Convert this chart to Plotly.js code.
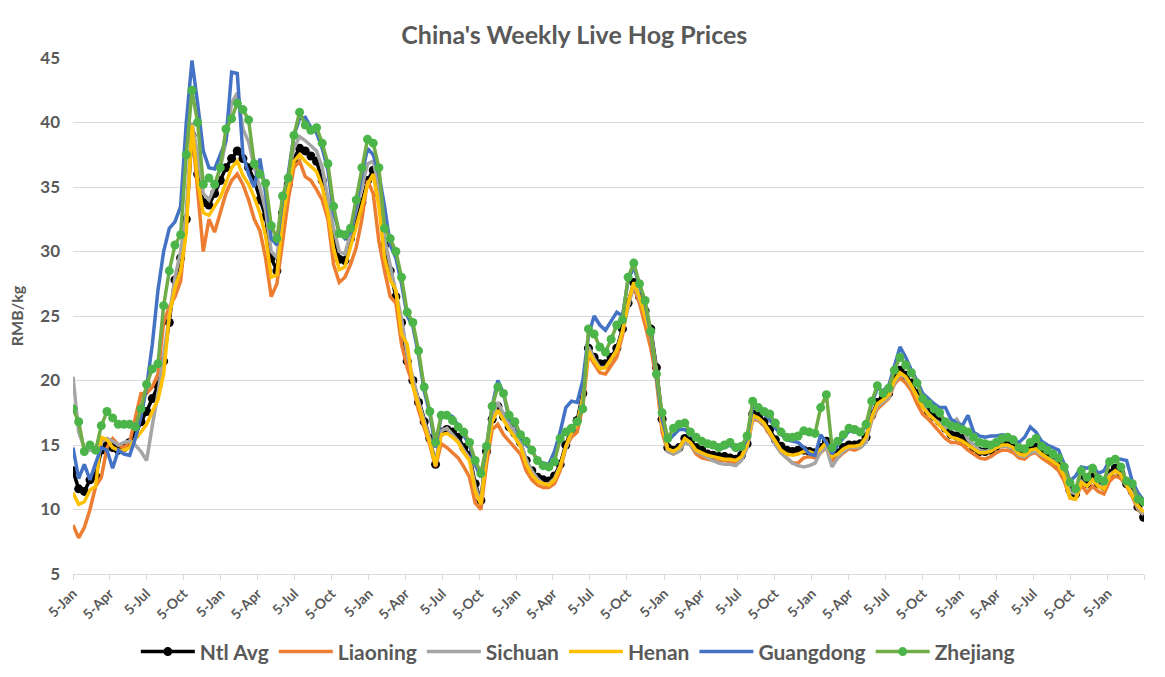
<!DOCTYPE html>
<html>
<head>
<meta charset="utf-8">
<script src="https://cdn.plot.ly/plotly-3.0.1.min.js"></script>
<style>
  html, body { margin: 0; padding: 0; background: #fff; }
  #hog-plot { width: 1165px; height: 677px; }
</style>
</head>
<body>
<div id="hog-plot"></div>
<script>
// Biweekly samples, first week 5-Jan-2019
const START_DATE = "2019-01-05";
const STEP_DAYS = 14;

const ntlAvg = [
  13.0, 11.6, 11.4, 12.3, 12.6, 14.6, 15.0, 14.8, 14.6, 14.8,
  15.2, 15.8, 16.8, 17.6, 18.6, 19.6, 21.5, 24.5, 27.8, 29.5,
  32.5, 39.0, 36.0, 33.8, 33.6, 34.5, 35.5, 36.5, 37.2, 37.8,
  37.2, 36.5, 35.5, 34.0, 32.7, 29.5, 28.5, 33.0, 35.2, 37.2,
  38.0, 37.8, 37.4, 37.0, 35.5, 33.5, 31.2, 29.4, 29.3, 31.0,
  32.7, 33.8, 35.5, 36.3, 34.5, 30.5, 28.5, 26.5, 24.5, 21.5,
  20.0, 18.3, 16.8, 15.5, 13.5, 16.0, 16.2, 16.0, 15.6, 14.8,
  14.2, 12.0, 10.7, 14.5, 17.0, 18.0, 17.2, 16.4, 15.9, 15.2,
  13.8, 13.0, 12.5, 12.3, 12.2, 12.6, 13.5, 15.0, 16.2, 16.9,
  19.0, 22.5, 21.8, 21.3, 21.3, 21.8, 22.5, 24.0, 26.0, 27.6,
  26.5, 25.4, 24.0, 21.0, 17.0, 14.8, 14.6, 14.8, 15.5, 15.3,
  14.8, 14.6, 14.3, 14.2, 14.1, 14.1, 14.0, 13.9, 14.2, 15.1,
  17.4, 17.2, 16.8, 16.2, 15.4, 14.9, 14.6, 14.5, 14.6, 14.6,
  14.5, 14.4, 14.8, 15.3, 14.2, 14.4, 14.8, 15.0, 15.0, 15.1,
  15.6, 17.3, 18.3, 18.6, 19.0, 20.2, 20.8, 20.4, 19.8, 19.0,
  18.2, 17.6, 17.2, 16.8, 16.3, 15.8, 15.7, 15.5, 15.2, 14.8,
  14.5, 14.5, 14.6, 14.9, 15.1, 15.1, 14.9, 14.4, 14.3, 14.7,
  14.8, 14.4, 14.1, 13.8, 13.5, 12.8, 11.5, 11.2, 12.3, 12.0,
  12.5, 12.0, 11.8, 12.8, 13.2, 12.8, 12.0, 11.4, 10.2, 9.4
];

const liaoning = [
  8.8, 7.8, 8.6, 10.0, 11.8, 12.5, 14.8, 15.5, 15.0, 14.8,
  15.2, 17.0, 19.0, 19.0, 19.5, 20.5, 24.5, 25.7, 26.5, 27.7,
  32.0, 39.5, 35.0, 30.0, 32.5, 31.5, 33.0, 34.5, 35.5, 36.0,
  35.2, 34.0, 32.5, 31.6, 29.5, 26.5, 27.5, 31.0, 34.0, 36.5,
  37.0, 35.8, 35.5, 34.8, 34.0, 32.5, 29.0, 27.6, 28.0, 29.0,
  30.3, 32.5, 35.5, 34.5, 30.8, 28.5, 26.5, 26.0, 22.8, 21.0,
  19.7, 17.7, 16.4, 15.0, 13.3, 15.1, 14.8, 14.4, 14.0, 13.3,
  12.5, 10.5, 10.0, 13.5, 16.2, 16.6, 15.8, 15.3, 14.8, 14.3,
  13.0, 12.3, 11.9, 11.7, 11.7, 12.0, 13.0, 14.8, 15.6, 16.0,
  18.0, 22.0, 21.3, 20.6, 20.5, 21.2, 21.8, 23.5, 26.0, 27.2,
  26.0, 24.3, 22.5, 20.0, 16.0, 14.5, 14.3, 14.6, 15.2, 15.0,
  14.3, 14.0, 13.9, 13.8, 13.8, 13.8, 13.7, 13.6, 13.9, 14.8,
  17.0, 16.9, 16.5, 15.8, 15.0, 14.4, 14.0, 13.6, 13.6, 14.0,
  14.1, 14.0, 14.4, 14.8, 13.8, 14.0, 14.4, 14.7, 14.6, 14.8,
  15.3, 16.9, 17.8, 18.2, 18.6, 19.7, 20.2, 19.8, 19.2, 18.2,
  17.4, 17.0, 16.5, 16.0, 15.5, 15.2, 15.2, 15.0, 14.6, 14.3,
  14.0, 13.9, 14.1, 14.4, 14.6, 14.6, 14.4, 14.0, 13.9, 14.3,
  14.4, 14.0, 13.7, 13.4, 13.0, 12.2, 10.9, 10.8, 11.9, 11.3,
  11.8, 11.4, 11.2, 12.2, 12.6, 12.4, 11.8, 11.0, 10.0, 9.6
];

const sichuan = [
  20.3, 16.0, 14.8, 14.6, 14.5, 15.2, 15.5, 15.3, 15.0, 15.2,
  15.3, 15.0, 14.5, 13.8, 16.5, 19.0, 22.0, 25.0, 28.0, 30.0,
  33.0, 40.0, 37.5, 34.5, 34.0, 35.0, 36.5, 38.5, 41.5, 42.3,
  39.5, 38.5, 36.5, 35.0, 33.2, 30.0, 29.5, 33.5, 36.0, 38.0,
  38.9, 38.6, 38.2, 37.8, 36.5, 34.2, 31.8, 30.0, 29.8, 31.4,
  33.2, 34.8, 36.8, 37.0, 35.0, 31.0, 29.0, 27.0, 24.8, 22.0,
  20.2, 18.4, 16.9, 15.5, 13.4, 16.1, 16.3, 15.8, 15.3, 14.6,
  14.0, 11.8, 10.6, 14.6, 17.2, 18.3, 17.4, 16.6, 16.0, 15.3,
  13.9, 13.0, 12.4, 12.0, 12.0, 12.4, 13.4, 14.8, 16.0, 16.6,
  18.8, 22.6, 21.7, 21.0, 21.0, 21.6, 22.4, 23.8, 25.8, 27.5,
  26.3, 25.2, 23.8, 20.8, 16.6, 14.5, 14.3, 14.5, 15.2, 15.0,
  14.5, 14.3, 14.0, 13.8, 13.6, 13.5, 13.5, 13.4, 13.8, 14.8,
  17.1, 17.0, 16.6, 16.0, 15.0, 14.4, 14.0, 13.6, 13.4, 13.3,
  13.4, 13.6, 14.5, 14.8, 13.3, 14.0, 14.5, 14.8, 14.8, 14.8,
  15.2, 17.0, 18.0, 18.3, 18.7, 19.8, 20.5, 20.2, 19.5, 18.8,
  18.0, 17.4, 17.0, 16.7, 16.3, 16.6, 17.0, 16.3, 15.4, 15.0,
  14.6, 14.5, 14.6, 14.8, 14.9, 14.9, 14.7, 14.2, 14.1, 14.4,
  14.5, 14.2, 14.0, 13.8, 13.4, 12.7, 11.4, 11.2, 12.2, 11.8,
  12.3, 11.9, 11.7, 12.7, 13.0, 12.7, 11.9, 11.3, 10.1, 9.6
];

const henan = [
  11.3, 10.4, 10.6, 11.5, 11.8, 15.6, 15.4, 14.8, 14.6, 14.6,
  14.8, 15.5, 16.0, 16.6, 17.6, 18.5, 20.5, 25.0, 27.2, 28.5,
  31.5, 39.8, 35.5, 33.0, 32.8, 33.5, 34.2, 35.3, 36.5, 37.0,
  35.9, 35.2, 34.2, 33.0, 31.2, 28.0, 28.2, 32.5, 35.0, 37.0,
  37.5, 37.0, 36.6, 36.2, 35.0, 33.0, 30.2, 28.6, 28.8, 30.3,
  32.0, 33.5, 35.2, 36.0, 33.5, 29.5, 27.8, 27.0, 23.6, 22.8,
  19.6, 18.0, 16.6, 15.2, 13.4, 15.8, 15.9, 15.6, 15.2, 14.4,
  13.8, 11.4, 10.4, 14.2, 16.8, 17.7, 16.9, 16.2, 15.6, 14.9,
  13.5, 12.7, 12.2, 12.0, 11.9, 12.3, 13.3, 14.9, 16.0, 16.6,
  18.6, 22.3, 21.5, 20.9, 21.0, 21.6, 22.3, 23.8, 26.0, 27.6,
  26.5, 25.0, 23.5, 20.5, 16.5, 14.7, 14.5, 14.8, 15.5, 15.2,
  14.6, 14.4, 14.2, 14.1, 14.0, 13.9, 13.9, 13.8, 14.1, 15.0,
  17.3, 17.1, 16.7, 16.0, 15.2, 14.6, 14.3, 14.2, 14.3, 14.5,
  14.5, 14.3, 14.7, 15.2, 14.1, 14.3, 14.7, 14.9, 14.9, 15.0,
  15.6, 17.2, 18.2, 18.5, 18.9, 20.0, 20.6, 20.3, 19.6, 18.7,
  17.9, 17.4, 17.0, 16.5, 16.0, 15.6, 15.5, 15.3, 15.0, 14.7,
  14.4, 14.4, 14.5, 14.8, 15.0, 15.0, 14.8, 14.3, 14.2, 14.6,
  14.7, 14.3, 14.0, 13.7, 13.4, 12.6, 10.9, 10.8, 12.1, 11.8,
  12.3, 11.8, 11.6, 12.6, 13.0, 12.7, 11.9, 11.2, 10.3, 9.8
];

const guangdong = [
  14.8, 12.4, 13.5, 12.3, 13.6, 14.8, 14.6, 13.2, 14.6, 14.3,
  14.2, 15.5, 17.2, 19.5, 22.8, 27.0, 30.0, 31.8, 32.3, 33.5,
  40.0, 44.8, 41.5, 37.8, 36.5, 36.4, 37.5, 38.6, 43.9, 43.8,
  37.5, 36.0, 35.0, 37.2, 34.5, 31.0, 30.5, 34.0, 36.0, 39.0,
  40.3, 40.4, 39.6, 39.2, 38.0, 36.3, 33.0, 31.5, 31.0, 31.5,
  33.5, 36.0, 38.0, 37.5, 36.0, 33.5, 30.5, 29.5, 27.5, 25.0,
  24.2, 22.0, 19.2, 17.4, 14.8, 17.2, 17.4, 17.2, 16.5, 15.8,
  15.0, 13.5, 12.5, 14.8, 18.0, 20.0, 19.0, 17.0, 16.6, 15.6,
  15.0, 14.6, 13.8, 13.6, 13.5, 14.5, 16.0, 17.9, 18.4, 18.3,
  20.0, 23.5, 25.0, 24.3, 23.9, 24.6, 25.3, 25.0, 27.8, 28.8,
  27.5, 26.0, 23.6, 20.5, 17.0, 15.3, 15.8, 16.2, 16.2, 15.8,
  15.5, 15.2, 15.0, 14.9, 14.7, 14.8, 15.0, 14.6, 14.7, 15.5,
  18.0, 17.8, 17.4, 17.0, 16.3, 15.8, 15.4, 15.3, 15.2, 14.8,
  14.3, 14.2, 15.8, 15.2, 14.3, 15.0, 15.6, 16.1, 16.0, 15.9,
  16.5, 18.2, 19.4, 19.2, 19.6, 21.0, 22.6, 21.8, 20.8, 20.0,
  19.0, 18.6, 18.2, 17.9, 17.9, 17.0, 16.7, 16.5, 17.3, 16.0,
  15.7, 15.6, 15.7, 15.7, 15.8, 15.7, 15.4, 15.2, 15.6, 16.4,
  16.0, 15.3, 15.0, 14.8, 14.6, 13.5, 12.2, 12.6, 13.3, 13.2,
  13.4, 12.8, 13.0, 13.8, 13.9, 13.9, 13.8, 12.2, 11.3, 10.7
];

const zhejiang = [
  17.8, 16.8, 14.5, 15.0, 14.6, 16.5, 17.6, 17.1, 16.6, 16.6,
  16.6, 16.4, 17.8, 19.7, 20.9, 21.3, 25.8, 28.5, 30.5, 31.3,
  37.5, 42.5, 40.0, 35.2, 35.7, 35.2, 36.5, 39.5, 40.3, 41.5,
  41.0, 40.2, 36.8, 36.0, 35.3, 32.0, 31.0, 34.3, 35.7, 39.0,
  40.8, 39.8, 39.4, 39.6, 38.4, 36.8, 33.5, 31.4, 31.3, 31.8,
  34.0, 36.5, 38.7, 38.4, 36.5, 31.8, 31.0, 30.0, 28.0, 25.3,
  24.5, 22.3, 19.5, 17.6, 15.2, 17.3, 17.3, 16.9, 16.4, 16.0,
  15.2, 13.8, 12.8, 14.9, 18.0, 19.5, 19.0, 17.3, 16.8, 15.8,
  15.3, 14.6, 13.8, 13.4, 13.3, 13.7, 15.5, 16.0, 16.3, 16.8,
  17.8, 24.0, 23.6, 22.6, 22.2, 23.2, 24.3, 24.7, 28.0, 29.1,
  27.5, 26.2, 23.8, 20.5, 17.5, 15.5, 16.3, 16.6, 16.7, 16.0,
  15.6, 15.3, 15.1, 15.0, 14.8, 15.0, 15.2, 14.8, 14.9, 15.7,
  18.4, 17.9, 17.6, 17.4, 16.7, 16.0, 15.6, 15.6, 15.7, 16.1,
  16.0, 15.9, 17.9, 18.9, 14.8, 15.3, 15.8, 16.3, 16.2, 16.0,
  16.6, 18.4, 19.6, 19.0, 19.4, 20.8, 21.8, 21.2, 20.6, 19.8,
  18.6, 18.2, 17.8, 17.5, 16.8, 16.5, 16.4, 16.2, 16.0, 15.6,
  15.2, 15.1, 15.0, 15.2, 15.5, 15.6, 15.4, 14.8, 14.7, 15.2,
  15.5, 14.9, 14.6, 14.3, 14.0, 13.3, 12.1, 11.6, 13.0, 12.5,
  13.2, 12.4, 12.2, 13.7, 13.9, 13.3, 12.2, 12.0, 10.8, 10.6
];

const seriesNames = ["Ntl Avg", "Liaoning", "Sichuan", "Henan", "Guangdong", "Zhejiang"];
const seriesColors = ["#000000", "#ED7D31", "#A5A5A5", "#FFC000", "#4472C4", "#70AD47"];
const tickYears = [2019, 2020, 2021, 2022, 2023, 2024, 2025, 2026];
const tickMonths = ["Jan", "Apr", "Jul", "Oct"];
const AXIS_END = "2026-04-05";

const TEXT_GRAY = "#595959";
const FONT = "Lato, 'Open Sans', sans-serif";

function pad(n) {
  return n < 10 ? "0" + n : "" + n;
}

// dates for each sample
function buildDates(count) {
  const out = [];
  const t0 = new Date(START_DATE + "T00:00:00Z").getTime();
  for (let i = 0; i < count; i++) {
    const d = new Date(t0 + i * STEP_DAYS * 86400000);
    out.push(d.getUTCFullYear() + "-" + pad(d.getUTCMonth() + 1) + "-" + pad(d.getUTCDate()));
  }
  return out;
}

// quarterly ticks on the 5th, last tick has no label
function buildTicks() {
  const vals = [];
  const text = [];
  tickYears.forEach(y => {
    tickMonths.forEach((m, j) => {
      const iso = y + "-" + pad(j * 3 + 1) + "-05";
      if (iso > AXIS_END) return;
      vals.push(iso);
      text.push(iso === AXIS_END ? "" : "5-" + m);
    });
  });
  return { vals, text };
}

function drawChart() {
  const allData = [ntlAvg, liaoning, sichuan, henan, guangdong, zhejiang];
  const dates = buildDates(ntlAvg.length);
  const ticks = buildTicks();

  const traces = allData.map((vals, i) => {
    const withMarkers = (i === 0 || i === 5);
    const tr = {
      x: dates,
      y: vals,
      name: seriesNames[i],
      type: "scatter",
      mode: withMarkers ? "lines+markers" : "lines",
      line: { color: seriesColors[i], width: 3.5 },
      hoverinfo: "skip"
    };
    if (withMarkers) {
      tr.marker = {
        color: i === 5 ? "#4CB54A" : "#000000",
        size: 9,
        line: { width: 0 }
      };
    }
    return tr;
  });

  const layout = {
    width: 1165,
    height: 677,
    paper_bgcolor: "#ffffff",
    plot_bgcolor: "#ffffff",
    font: { family: FONT, color: TEXT_GRAY },
    margin: { l: 73, r: 21, t: 58, b: 103 },
    title: {
      text: "China's Weekly Live Hog Prices",
      font: { family: FONT, size: 25, color: TEXT_GRAY, weight: 700 },
      x: 0.493,
      xanchor: "center",
      y: 0.948,
      yanchor: "middle"
    },
    xaxis: {
      type: "date",
      range: [START_DATE, AXIS_END],
      automargin: false,
      tickmode: "array",
      tickvals: ticks.vals,
      ticktext: ticks.text,
      tickangle: -45,
      tickfont: { family: FONT, size: 14, color: TEXT_GRAY, weight: 700 },
      ticks: "outside",
      ticklen: 5,
      tickcolor: "#D9D9D9",
      showgrid: false,
      showline: true,
      linecolor: "#D9D9D9",
      linewidth: 1,
      zeroline: false,
      fixedrange: true
    },
    yaxis: {
      range: [5, 45],
      automargin: false,
      tickmode: "linear",
      tick0: 5,
      dtick: 5,
      tickfont: { family: FONT, size: 17, color: TEXT_GRAY, weight: 700 },
      ticklabelstandoff: 12,
      showgrid: true,
      gridcolor: "#D9D9D9",
      gridwidth: 1,
      showline: false,
      zeroline: false,
      ticks: "",
      title: {
        text: "RMB/kg",
        font: { family: FONT, size: 16, color: TEXT_GRAY, weight: 700 },
        standoff: 12
      },
      fixedrange: true
    },
    showlegend: true,
    legend: {
      orientation: "h",
      xref: "container",
      yref: "container",
      x: 0.496,
      xanchor: "center",
      y: 0.037,
      yanchor: "middle",
      itemwidth: 54,
      font: { family: FONT, size: 21, color: TEXT_GRAY, weight: 700 },
      bgcolor: "rgba(0,0,0,0)"
    },
    hovermode: false
  };

  Plotly.newPlot("hog-plot", traces, layout, { displayModeBar: false, staticPlot: true });
}

document.addEventListener("DOMContentLoaded", drawChart);
</script>
</body>
</html>
